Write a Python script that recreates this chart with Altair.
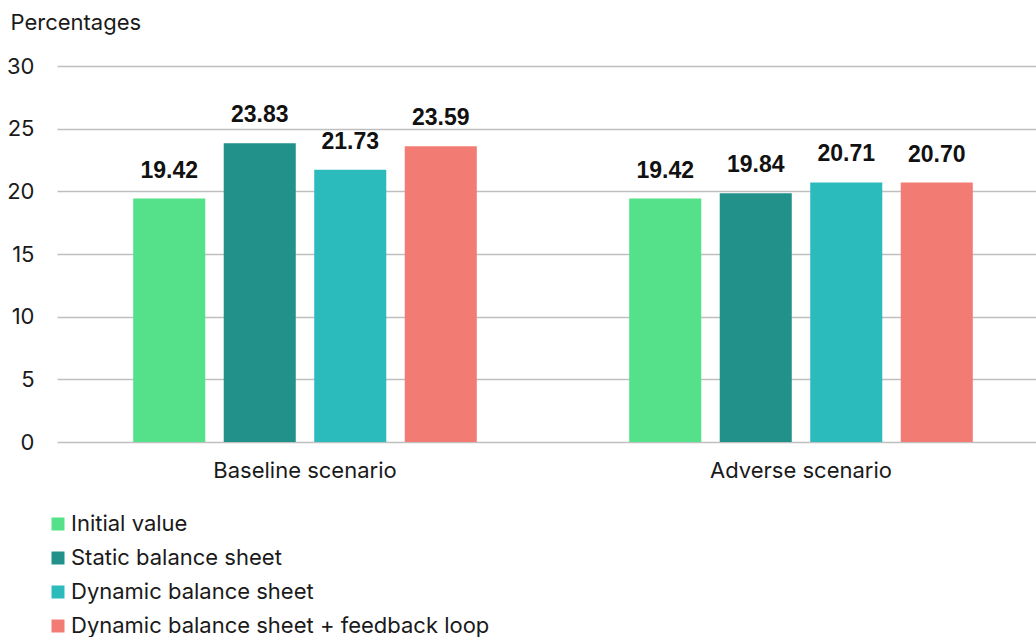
import altair as alt
import pandas as pd

# Capital ratio by scenario and balance-sheet assumption
scenarios = ["Baseline scenario", "Adverse scenario"]
series = [
    "Initial value",
    "Static balance sheet",
    "Dynamic balance sheet",
    "Dynamic balance sheet + feedback loop",
]
baseline_values = [19.42, 23.83, 21.73, 23.59]
adverse_values = [19.42, 19.84, 20.71, 20.70]
colors = ["#55E08A", "#21918A", "#2BBBBD", "#F27C73"]

rows = []
for scen, vals in zip(scenarios, [baseline_values, adverse_values]):
    for s, v in zip(series, vals):
        rows.append({"scenario": scen, "series": s, "value": v})
df = pd.DataFrame(rows)

FONT = "Inter"
FS = 22

x_enc = alt.X(
    "scenario:N",
    sort=scenarios,
    scale=alt.Scale(paddingInner=0, paddingOuter=0, range=[0, 992]),
    axis=alt.Axis(
        title=None,
        labelAngle=0,
        labelFontSize=FS,
        labelFont=FONT,
        labelColor="#1a1a1a",
        labelPadding=18,
        labelLimit=400,
        domain=False,
        ticks=False,
    ),
)
xoff_enc = alt.XOffset(
    "series:N",
    sort=series,
    scale=alt.Scale(paddingInner=0.204, paddingOuter=0.842),
)

bars = alt.Chart(df).mark_bar().encode(
    x=x_enc,
    xOffset=xoff_enc,
    y=alt.Y(
        "value:Q",
        scale=alt.Scale(domain=[0, 30]),
        axis=alt.Axis(
            values=[0, 5, 10, 15, 20, 25, 30],
            title="Percentages",
            titleAngle=0,
            titleAlign="left",
            titleBaseline="middle",
            titleX=-47,
            titleY=-44,
            titleFontSize=FS,
            titleFontWeight="normal",
            titleFont=FONT,
            titleColor="#1a1a1a",
            labelFontSize=FS,
            labelFont=FONT,
            labelColor="#1a1a1a",
            labelPadding=23,
            labelAlign="right",
            labelBaseline="middle",
            domain=False,
            ticks=False,
            grid=True,
            gridColor="#bfbfbf",
            gridWidth=1.5,
        ),
    ),
    color=alt.Color(
        "series:N",
        sort=series,
        scale=alt.Scale(domain=series, range=colors),
        legend=alt.Legend(
            title=None,
            orient="none",
            legendX=-10,
            legendY=447,
            direction="vertical",
            symbolType="square",
            symbolSize=169,
            symbolStrokeWidth=0,
            labelFontSize=FS,
            labelFont=FONT,
            labelColor="#1a1a1a",
            labelOffset=2,
            labelLimit=600,
            rowPadding=12,
            padding=0,
        ),
    ),
)

labels = alt.Chart(df).mark_text(
    dy=-21,
    baseline="alphabetic",
    align="center",
    fontSize=23,
    fontWeight="bold",
    font="Liberation Sans",
    color="#111111",
).encode(
    x=x_enc,
    xOffset=xoff_enc,
    y="value:Q",
    text=alt.Text("value:Q", format=".2f"),
)

chart = (
    alt.layer(bars, labels)
    .properties(
        width=979,
        height=376,
        autosize=alt.AutoSizeParams(type="none"),
        padding={"left": 57, "top": 66, "right": 0, "bottom": 195},
        background="white",
    )
    .configure_view(stroke=None)
)

chart.save("out.html", embed_options={"renderer": "svg", "actions": False})
